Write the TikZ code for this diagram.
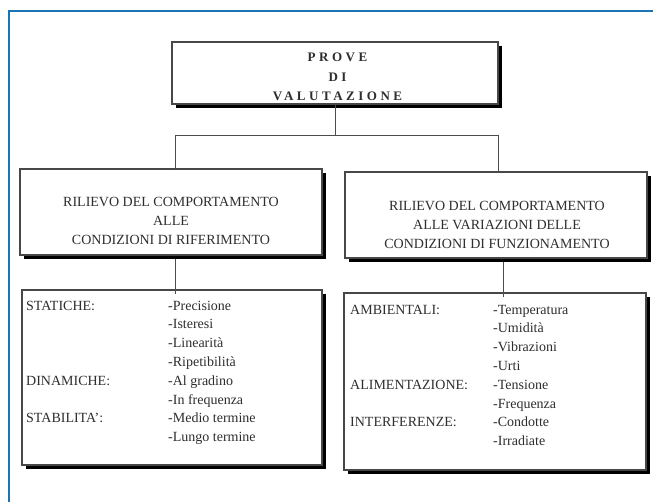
\documentclass[tikz,border=0pt]{standalone}
\usepackage{fontspec}
\setmainfont{Liberation Serif}
\newfontfamily\titlefont[LetterSpace=27]{Liberation Serif}
\usetikzlibrary{shadows,calc}
\definecolor{frameblue}{HTML}{1B75B5}
\definecolor{ink}{gray}{0.18}
\begin{document}
\begin{tikzpicture}[x=1pt,y=-1pt,
  box/.style={draw=black!72, line width=1.2pt, fill=white, inner sep=0pt, outer sep=0pt,
    drop shadow={shadow xshift=3.5pt, shadow yshift=-4pt, fill=black, opacity=1}},
  conn/.style={draw=black!70, line width=1pt},
  boxtext/.style={align=center, text=ink, inner sep=0pt, font=\fontsize{14}{19}\selectfont},
  titletext/.style={align=center, text=ink, inner sep=0pt, font=\titlefont\bfseries\fontsize{13}{19.5}\selectfont},
  item/.style={anchor=base west, text=ink, inner sep=0pt, font=\fontsize{14}{15}\selectfont}
]
\useasboundingbox (0,0) rectangle (653,501);
\fill[white] (0,0) rectangle (653,501);
% blue frame
\draw[frameblue, line width=2.5pt] (9,505) -- (9,11) -- (657,11);

% boxes
\node[box, minimum width=326pt, minimum height=62pt] (top) at (335,73) {};
\node[box, minimum width=302pt, minimum height=86pt] (lb) at (171,212) {};
\node[box, minimum width=302pt, minimum height=86pt] (rb) at (496,215) {};
\node[box, minimum width=300pt, minimum height=175pt] (llb) at (172,377.5) {};
\node[box, minimum width=302pt, minimum height=177pt] (lrb) at (495,381.5) {};

% connectors
\coordinate (hj) at (0,135);
\draw[conn] (top.south) -- (top.south |- hj) -| ([xshift=4pt]lb.north);
\draw[conn] (top.south |- hj) -| ([xshift=2pt]rb.north);
\draw[conn] ([xshift=4pt,yshift=-4pt]lb.south) -- ([xshift=4pt,yshift=-4pt]lb.south |- llb.north);
\draw[conn] ([xshift=7pt,yshift=-4pt]rb.south) -- ([xshift=7pt,yshift=-4pt]rb.south |- lrb.north);

% titles
\node[titletext] (tt) at (337.5,77) {PROVE\\DI\\VALUTAZIONE};
\node[boxtext] (lbt) at (171,221) {RILIEVO DEL COMPORTAMENTO\\ALLE\\CONDIZIONI DI RIFERIMENTO};
\node[boxtext] (rbt) at (497,225) {RILIEVO DEL COMPORTAMENTO\\ALLE VARIAZIONI DELLE\\CONDIZIONI DI FUNZIONAMENTO};

% lower left entries
\node[item] (l1) at (26,310) {STATICHE:};
\node[item] (l2) at (26,385.2) {DINAMICHE:};
\node[item] (l3) at (26,422.8) {STABILITA':};
\node[item] (a1) at (168,310) {-Precisione};
\node[item] (a2) at (168,328.8) {-Isteresi};
\node[item] (a3) at (168,347.6) {-Linearità};
\node[item] (a4) at (168,366.4) {-Ripetibilità};
\node[item] (a5) at (168,385.2) {-Al gradino};
\node[item] (a6) at (168,404) {-In frequenza};
\node[item] (a7) at (168,422.8) {-Medio termine};
\node[item] (a8) at (168,441.6) {-Lungo termine};

% lower right entries
\node[item] (r1) at (350,314) {AMBIENTALI:};
\node[item] (r2) at (350,389.2) {ALIMENTAZIONE:};
\node[item] (r3) at (350,426.8) {INTERFERENZE:};
\node[item] (b1) at (493,314) {-Temperatura};
\node[item] (b2) at (493,332.8) {-Umidità};
\node[item] (b3) at (493,351.6) {-Vibrazioni};
\node[item] (b4) at (493,370.4) {-Urti};
\node[item] (b5) at (493,389.2) {-Tensione};
\node[item] (b6) at (493,408) {-Frequenza};
\node[item] (b7) at (493,426.8) {-Condotte};
\node[item] (b8) at (493,445.6) {-Irradiate};
\end{tikzpicture}
\end{document}
